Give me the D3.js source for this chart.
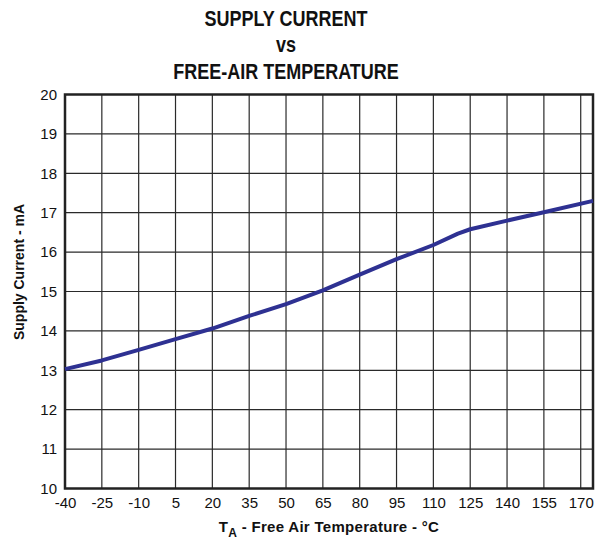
<!DOCTYPE html>
<html>
<head>
<meta charset="utf-8">
<script src="https://cdn.jsdelivr.net/npm/d3@7"></script>
<style>
    body { margin: 0; background: #fff; }
    text { font-family: "Liberation Sans", Arial, sans-serif; fill: #111; }
</style>
</head>
<body>
<script>
// data
var temps = [-40, -25, -10, 5, 20, 35, 50, 65, 80, 95, 110, 120, 125, 140, 155, 175];
var currents = [13.03, 13.25, 13.52, 13.79, 14.06, 14.38, 14.68, 15.03, 15.43, 15.82, 16.18, 16.47, 16.58, 16.80, 17.01, 17.30];
var xTicks = [-40, -25, -10, 5, 20, 35, 50, 65, 80, 95, 110, 125, 140, 155, 170];
var yTicks = [10, 11, 12, 13, 14, 15, 16, 17, 18, 19, 20];
var titleLines = ["SUPPLY CURRENT", "vs", "FREE-AIR TEMPERATURE"];

var margin = {left: 65, right: 13, top: 94.5, bottom: 53.5};
var width = 606 - margin.left - margin.right;
var height = 542 - margin.top - margin.bottom;

var data = temps.map(function (t, i) {
    return {temp: t, current: currents[i]};
});

var xScale = d3.scaleLinear().domain([-40, 175]).range([0, width]);
var yScale = d3.scaleLinear().domain([10, 20]).range([height, 0]);

var svg = d3.select("body").append("svg")
    .attr("width", 606)
    .attr("height", 542);

// title (reference type is a bit taller than wide)
svg.append("g").selectAll("text")
    .data(titleLines)
    .enter().append("text")
    .attr("transform", function (d, i) {
        return "translate(286," + [26, 52, 79][i] + ") scale(1,1.2)";
    })
    .attr("text-anchor", "middle")
    .style("font-size", "18px")
    .style("font-weight", "bold")
    .text(function (d) { return d; });

var chartGroup = svg.append("g")
    .attr("transform", "translate(" + margin.left + "," + margin.top + ")");

// grid
chartGroup.append("g").selectAll("line")
    .data(xTicks)
    .enter().append("line")
    .attr("x1", function (d) { return xScale(d); })
    .attr("x2", function (d) { return xScale(d); })
    .attr("y1", 0)
    .attr("y2", height)
    .attr("stroke", "#2a2a2a")
    .attr("stroke-width", 1.2);

chartGroup.append("g").selectAll("line")
    .data(yTicks)
    .enter().append("line")
    .attr("x1", 0)
    .attr("x2", width)
    .attr("y1", function (d) { return yScale(d); })
    .attr("y2", function (d) { return yScale(d); })
    .attr("stroke", "#2a2a2a")
    .attr("stroke-width", 1.2);

// frame
chartGroup.append("rect")
    .attr("width", width)
    .attr("height", height)
    .attr("fill", "none")
    .attr("stroke", "#222")
    .attr("stroke-width", 2.5);

// axes labels via d3 axes, lines hidden; plain hyphen for negatives
var plain = function (d) { return String(d); };
var xAxis = d3.axisBottom(xScale).tickValues(xTicks).tickFormat(plain).tickSize(0).tickPadding(9);
var yAxis = d3.axisLeft(yScale).tickValues(yTicks).tickFormat(plain).tickSize(0).tickPadding(8);

var gx = chartGroup.append("g")
    .attr("transform", "translate(0," + height + ")")
    .call(xAxis);
var gy = chartGroup.append("g").call(yAxis);

[gx, gy].forEach(function (g) {
    g.select(".domain").remove();
    g.selectAll("text")
        .style("font-family", "'Liberation Sans', Arial, sans-serif")
        .style("font-size", "15px")
        .attr("fill", "#111");
});

// curve
var line = d3.line()
    .x(function (d) { return xScale(d.temp); })
    .y(function (d) { return yScale(d.current); });

chartGroup.append("path")
    .datum(data)
    .attr("d", line)
    .attr("fill", "none")
    .attr("stroke", "#2e3192")
    .attr("stroke-width", 4)
    .attr("stroke-linejoin", "round");

// axis titles
var xTitle = svg.append("text")
    .attr("x", margin.left + width / 2)
    .attr("y", 532)
    .attr("text-anchor", "middle")
    .style("font-size", "15px")
    .style("letter-spacing", "0.3px")
    .style("font-weight", "bold");
xTitle.append("tspan").text("T");
xTitle.append("tspan").attr("dy", 5).style("font-size", "12px").text("A");
xTitle.append("tspan").attr("dy", -5).text(" - Free Air Temperature - °C");

svg.append("text")
    .attr("transform", "translate(24,272) rotate(-90)")
    .attr("text-anchor", "middle")
    .style("font-size", "14px")
    .style("font-weight", "bold")
    .text("Supply Current - mA");
</script>
</body>
</html>
